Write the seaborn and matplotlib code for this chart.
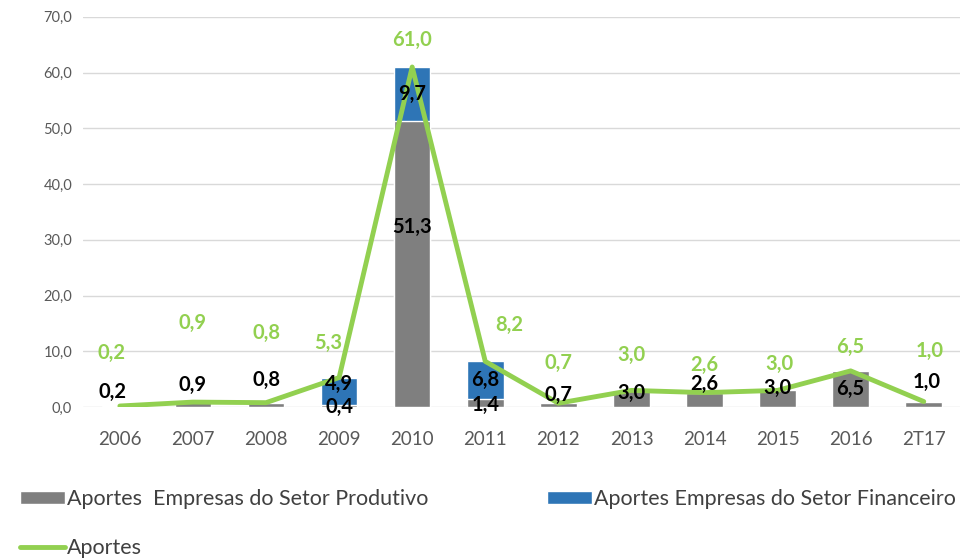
import numpy as np
import matplotlib.pyplot as plt
import seaborn as sns

years = ["2006", "2007", "2008", "2009", "2010", "2011",
         "2012", "2013", "2014", "2015", "2016", "2T17"]
produtivo = [0.2, 0.9, 0.8, 0.4, 51.3, 1.4, 0.7, 3.0, 2.6, 3.0, 6.5, 1.0]
financeiro = [0.0, 0.0, 0.0, 4.9, 9.7, 6.8, 0.0, 0.0, 0.0, 0.0, 0.0, 0.0]
aportes = [0.2, 0.9, 0.8, 5.3, 61.0, 8.2, 0.7, 3.0, 2.6, 3.0, 6.5, 1.0]
yticks = [0, 10, 20, 30, 40, 50, 60, 70]

# manual nudges of the data labels (points), as placed in the original
green_dx = [-6, 0, 0, -8, 0, 17, 0, 0, 0, 1, 0, 4]
green_dy = [31, 50, 43, 18, 12, 19, 22, 18, 13, 12, 10, 29]
black_dx = [-5, 0, 0, 0, 0, 0, 0, 0, 0, 0, 0, 2]
black_dy = [10, 12, 16, 0, 28, 0, 6, -1.5, 6, 2, 0, 14]

gray = "#7f7f7f"
blue = "#2e75b6"
green = "#92d050"


def br(v):
    return f"{v:.1f}".replace(".", ",")


sns.set_style("white")
plt.rcParams["font.family"] = ["Lato", "DejaVu Sans"]

fig = plt.figure(figsize=(9.69, 5.6), dpi=100)
ax = fig.add_axes([0.086, 0.273, 0.905, 0.697])

stack_top = np.array(produtivo) + np.array(financeiro)
sns.barplot(x=years, y=stack_top, color=blue, saturation=1, width=0.5,
            label="Aportes Empresas do Setor Financeiro", ax=ax)
sns.barplot(x=years, y=produtivo, color=gray, saturation=1, width=0.5,
            label="Aportes  Empresas do Setor Produtivo", ax=ax)
sns.lineplot(x=np.arange(len(years)), y=aportes, color=green, linewidth=3.5,
             label="Aportes", ax=ax, zorder=5)

ax.set_ylim(0, 70)
ax.set_xlim(-0.5, len(years) - 0.5)
ax.set_yticks(yticks)
ax.set_yticklabels([br(t) for t in yticks], fontsize=10.5, color="#595959")
ax.tick_params(axis="x", labelsize=13.5, colors="#595959", pad=17, length=0)
ax.tick_params(axis="y", length=0, pad=8)
ax.yaxis.grid(True, color="#d9d9d9", linewidth=1)
ax.set_axisbelow(True)
for s in ax.spines.values():
    s.set_visible(False)
ax.set_xlabel("")
ax.set_ylabel("")

lab = dict(fontsize=14.5, fontweight="bold", zorder=6, textcoords="offset points")

for i in range(len(years)):
    p, f, t = produtivo[i], financeiro[i], aportes[i]
    if f > 0:
        # stacked: gray part labelled in its middle, blue part in the middle
        ax.annotate(br(p), (i, p / 2), xytext=(black_dx[i], black_dy[i] - 1),
                    ha="center", va="center", color="black", **lab)
        ax.annotate(br(f), (i, p + f / 2), xytext=(0, 5 if f < 6 else 0),
                    ha="center", va="center", color="black", **lab)
    elif p > 5:
        ax.annotate(br(p), (i, p / 2), xytext=(black_dx[i], black_dy[i]),
                    ha="center", va="center", color="black", **lab)
    else:
        ax.annotate(br(p), (i, p), xytext=(black_dx[i], black_dy[i]),
                    ha="center", va="center", color="black", **lab)
    ax.annotate(br(t), (i, t), xytext=(green_dx[i], green_dy[i]),
                ha="center", va="bottom", color=green, **lab)

handles, labels = ax.get_legend_handles_labels()
ax.get_legend().remove()
by_label = dict(zip(labels, handles))
# legend fills column-wise: column 1 = Produtivo, Aportes; column 2 = Financeiro
order = ["Aportes  Empresas do Setor Produtivo", "Aportes",
         "Aportes Empresas do Setor Financeiro"]
fig.legend([by_label[k] for k in order], order,
           loc="lower left", bbox_to_anchor=(20 / 969, 2 / 560), ncol=2,
           frameon=False, fontsize=15.5, labelcolor="#404040",
           handlelength=2.1, handleheight=0.55, handletextpad=0.1,
           columnspacing=5.5, labelspacing=1.35, borderpad=0, borderaxespad=0)

fig.savefig("out.png", dpi=100)
